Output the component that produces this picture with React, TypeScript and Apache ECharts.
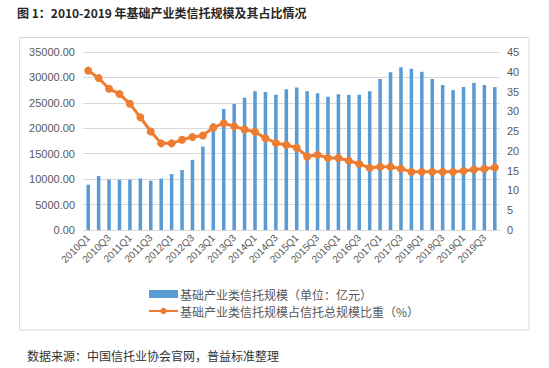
import React, { useEffect, useRef } from "react";
import * as echarts from "echarts";

const categories = [
  "2010Q1", "2010Q2", "2010Q3", "2010Q4",
  "2011Q1", "2011Q2", "2011Q3", "2011Q4",
  "2012Q1", "2012Q2", "2012Q3", "2012Q4",
  "2013Q1", "2013Q2", "2013Q3", "2013Q4",
  "2014Q1", "2014Q2", "2014Q3", "2014Q4",
  "2015Q1", "2015Q2", "2015Q3", "2015Q4",
  "2016Q1", "2016Q2", "2016Q3", "2016Q4",
  "2017Q1", "2017Q2", "2017Q3", "2017Q4",
  "2018Q1", "2018Q2", "2018Q3", "2018Q4",
  "2019Q1", "2019Q2", "2019Q3", "2019Q4",
];

const scaleValues = [
  8900, 10600, 9900, 9900, 9900, 10100, 9700, 10100,
  11000, 11800, 13800, 16400, 21000, 23800, 24800, 26000,
  27300, 27150, 26600, 27700, 28000, 27300, 26900, 26200,
  26700, 26550, 26600, 27300, 29700, 31000, 32000, 31700,
  31100, 29700, 28500, 27500, 28100, 28900, 28500, 28100,
];

const shareValues = [
  40.3, 38.4, 35.7, 34.4, 31.9, 28.5, 24.9, 21.9,
  21.9, 22.8, 23.5, 23.9, 25.9, 27.0, 26.2, 25.4,
  24.8, 23.2, 22.0, 21.5, 20.8, 18.6, 19.0, 18.2,
  18.2, 17.5, 16.7, 15.7, 16.0, 16.0, 15.5, 14.7,
  14.7, 14.7, 14.7, 14.7, 14.9, 15.3, 15.5, 15.8,
];

const barName = "基础产业类信托规模（单位：亿元）";
const lineName = "基础产业类信托规模占信托总规模比重（%）";
const titleText = "图 1：2010-2019 年基础产业类信托规模及其占比情况";
const sourceText = "数据来源：中国信托业协会官网，普益标准整理";

export default function App() {
  const ref = useRef<HTMLDivElement>(null);
  useEffect(() => {
    if (!ref.current) return;
    const chart = echarts.init(ref.current, undefined, { renderer: "svg" });
    const font = "'Liberation Sans', Arial, sans-serif";
    const cjk = "'Noto Sans CJK SC', sans-serif";
    chart.setOption({
      animation: false,
      backgroundColor: "#ffffff",
      textStyle: { fontFamily: font },
      graphic: [
        {
          type: "rect",
          shape: { x: 19.5, y: 37.5, width: 509.5, height: 292.5 },
          style: { fill: "none", stroke: "#d9d9d9", lineWidth: 1 },
          silent: true,
        },
        {
          type: "text",
          x: 17,
          y: 12,
          style: {
            text: titleText,
            fontSize: 12,
            fontWeight: "bold",
            fontFamily: cjk,
            fill: "#262626",
            verticalAlign: "middle",
          },
        },
        {
          type: "text",
          x: 27,
          y: 355,
          style: {
            text: sourceText,
            fontSize: 12,
            fontFamily: cjk,
            fill: "#333333",
            verticalAlign: "middle",
          },
        },
      ],
      grid: { left: 83, right: 49, top: 52, bottom: 138, containLabel: false },
      legend: {
        orient: "vertical",
        left: 143,
        top: 283,
        itemWidth: 29,
        itemHeight: 8,
        itemGap: 5,
        textStyle: { fontFamily: cjk, fontSize: 12, color: "#595959", padding: [0, 0, 0, -3] },
        data: [
          { name: barName, icon: "rect" },
          { name: lineName },
        ],
      },
      xAxis: {
        type: "category",
        data: categories,
        boundaryGap: true,
        axisLine: { lineStyle: { color: "#d9d9d9" } },
        axisTick: { show: false },
        axisLabel: {
          interval: 1,
          rotate: 45,
          fontSize: 10,
          color: "#595959",
          margin: 6,
        },
      },
      yAxis: [
        {
          type: "value",
          min: 0,
          max: 35000,
          interval: 5000,
          axisLine: { show: false },
          axisTick: { show: false },
          splitLine: { lineStyle: { color: "#d9d9d9" } },
          axisLabel: {
            fontSize: 11,
            color: "#595959",
            margin: 8,
            formatter: (v: number) => v.toFixed(2),
          },
        },
        {
          type: "value",
          min: 0,
          max: 45,
          interval: 5,
          position: "right",
          axisLine: { show: false },
          axisTick: { show: false },
          splitLine: { show: false },
          axisLabel: { fontSize: 11, color: "#595959", margin: 7 },
        },
      ],
      series: [
        {
          name: barName,
          type: "bar",
          data: scaleValues,
          barWidth: "34%",
          itemStyle: { color: "#5b9bd5" },
        },
        {
          name: lineName,
          type: "line",
          yAxisIndex: 1,
          data: shareValues,
          symbol: "circle",
          symbolSize: 8,
          showSymbol: true,
          showAllSymbol: true,
          lineStyle: { color: "#ed7d31", width: 3 },
          itemStyle: { color: "#ed7d31" },
        },
      ],
    });
    return () => chart.dispose();
  }, []);
  return <div ref={ref} style={{ width: 549, height: 368, position: "absolute", left: 0, top: 0 }} />;
}
